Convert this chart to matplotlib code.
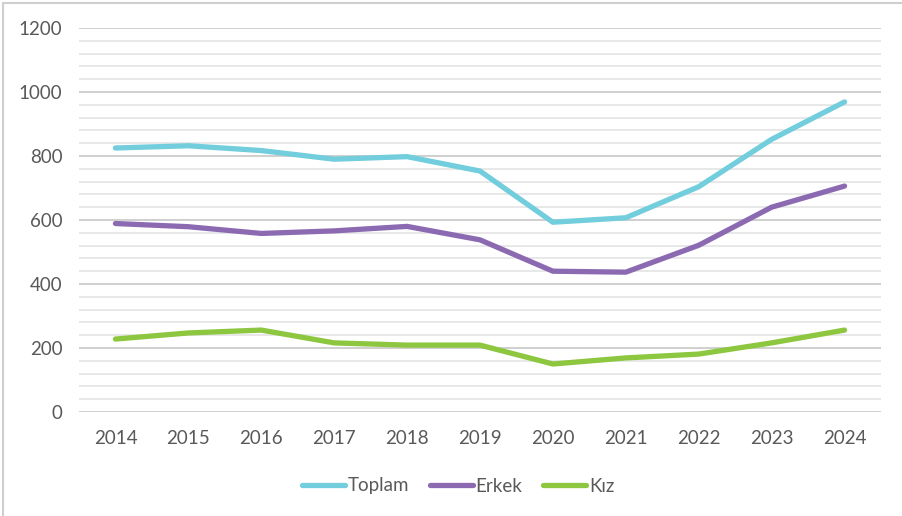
import numpy as np
import matplotlib.pyplot as plt
from matplotlib.patches import Rectangle
from matplotlib.ticker import MultipleLocator

# Veriler
yillar = ['2014', '2015', '2016', '2017', '2018', '2019', '2020', '2021', '2022', '2023', '2024']
toplam = [825, 832, 817, 790, 798, 753, 593, 607, 704, 852, 969]
erkek = [589, 579, 558, 566, 580, 538, 440, 437, 521, 640, 706]
kiz = [228, 247, 256, 216, 209, 209, 150, 169, 181, 216, 256]

renkler = ['#72CDDC', '#8C6AB2', '#8DC63F']
etiketler = ['Toplam', 'Erkek', 'Kız']

plt.rcParams['font.family'] = ['Lato', 'DejaVu Sans']

fig = plt.figure(figsize=(9.03, 5.16), dpi=100)
ax = fig.add_axes([79/903, 1 - 412/516, 802/903, 384/516])

# dis cerceve
fig.patches.append(Rectangle((3/903, -0.1), 1.2, 1 - 3/516 + 0.1,
                             transform=fig.transFigure, fill=False,
                             edgecolor='#CFCFCF', linewidth=1.5))

x = np.arange(len(yillar))
for seri, renk, ad in zip([toplam, erkek, kiz], renkler, etiketler):
    ax.plot(x, seri, color=renk, linewidth=3.8, label=ad,
            solid_capstyle='round', solid_joinstyle='round', zorder=3)

ax.set_xlim(-0.5, len(yillar) - 0.5)
ax.set_ylim(0, 1200)
ax.yaxis.set_major_locator(MultipleLocator(200))
ax.yaxis.set_minor_locator(MultipleLocator(40))
ax.set_xticks(x)
ax.set_xticklabels(yillar)

ax.grid(True, axis='y', which='major', color='#CCCCCC', linewidth=1.3)
ax.grid(True, axis='y', which='minor', color='#E6E6E6', linewidth=1.3)
ax.set_axisbelow(True)
for s in ax.spines.values():
    s.set_visible(False)

ax.tick_params(axis='both', which='both', length=0, labelsize=13.5,
               labelcolor='#595959')
ax.tick_params(axis='y', pad=12)
ax.tick_params(axis='x', pad=13)

ax.legend(loc='center', bbox_to_anchor=(458/903, 1 - 486/516),
          bbox_transform=fig.transFigure, ncol=3, frameon=False,
          fontsize=13.5, labelcolor='#595959', handlelength=2.3,
          handletextpad=0.15, columnspacing=1.1)

fig.savefig('out.png', dpi=100)
